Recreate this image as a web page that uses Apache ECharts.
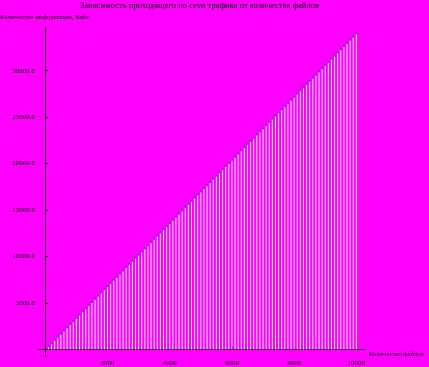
<!DOCTYPE html>
<html>
<head>
<meta charset="utf-8">
<script src="https://cdn.jsdelivr.net/npm/echarts@6/dist/echarts.min.js"></script>
<style>
html,body{margin:0;padding:0;background:#ff00ff;}
#c{width:429px;height:367px;}
</style>
</head>
<body>
<div id="c"></div>
<script>
const titleText = "Зависимость проходящего по сети трафика от количества файлов";
const yName = "Количество информации, Байт";
const xName = "Количество файлов";
const xTicks = [2000, 4000, 6000, 8000, 10000];
const yTicks = [5000, 10000, 15000, 20000, 25000, 30000];
const nodes = [100,200,300,400,500,600,700,800,900,1000,
1100,1200,1300,1400,1500,1600,1700,1800,1900,2000,
2100,2200,2300,2400,2500,2600,2700,2800,2900,3000,
3100,3200,3300,3400,3500,3600,3700,3800,3900,4000,
4100,4200,4300,4400,4500,4600,4700,4800,4900,5000,
5100,5200,5300,5400,5500,5600,5700,5800,5900,6000,
6100,6200,6300,6400,6500,6600,6700,6800,6900,7000,
7100,7200,7300,7400,7500,7600,7700,7800,7900,8000,
8100,8200,8300,8400,8500,8600,8700,8800,8900,9000,
9100,9200,9300,9400,9500,9600,9700,9800,9900,10000];
const traffic = [340,680,1020,1360,1700,2040,2380,2720,3060,3400,
3740,4080,4420,4760,5100,5440,5780,6120,6460,6800,
7140,7480,7820,8160,8500,8840,9180,9520,9860,10200,
10540,10880,11220,11560,11900,12240,12580,12920,13260,13600,
13940,14280,14620,14960,15300,15640,15980,16320,16660,17000,
17340,17680,18020,18360,18700,19040,19380,19720,20060,20400,
20740,21080,21420,21760,22100,22440,22780,23120,23460,23800,
24140,24480,24820,25160,25500,25840,26180,26520,26860,27200,
27540,27880,28220,28560,28900,29240,29580,29920,30260,30600,
30940,31280,31620,31960,32300,32640,32980,33320,33660,34000];

const pts = nodes.map((n, i) => [n, traffic[i]]);
const chart = echarts.init(document.getElementById('c'), null, {renderer: 'canvas'});
const font = '"Liberation Serif", "DejaVu Serif", serif';
chart.setOption({
  backgroundColor: '#ff00ff',
  animation: false,
  graphic: [
    {type: 'text', left: 80, top: 1, style: {text: titleText, font: '8.6px ' + font, fill: '#000'}},
    {type: 'text', left: 0, top: 14, style: {text: yName, font: '6.8px ' + font, fill: '#000'}},
    {type: 'text', left: 369, top: 351, style: {text: xName, font: '6.6px ' + font, fill: '#000'}}
  ],
  grid: {left: 38, top: 27, width: 327, height: 335},
  xAxis: {
    type: 'value', min: -235, max: 10278,
    splitLine: {show: false},
    axisLine: {onZero: true, lineStyle: {color: '#000', width: 1}},
    axisTick: {inside: true, length: 3, customValues: xTicks, lineStyle: {color: '#000'}},
    axisLabel: {customValues: xTicks, margin: 4, fontFamily: font, fontSize: 7, color: '#000',
      formatter: v => String(v)}
  },
  yAxis: {
    type: 'value', min: -708, max: 34700,
    splitLine: {show: false},
    axisLine: {onZero: true, lineStyle: {color: '#000', width: 1}},
    axisTick: {inside: true, length: 3, customValues: yTicks, lineStyle: {color: '#000'}},
    axisLabel: {customValues: yTicks, margin: 3, fontFamily: font, fontSize: 7, color: '#000',
      formatter: v => v.toFixed(1)}
  },
  series: [
    {type: 'bar', data: pts, barWidth: 1, itemStyle: {color: '#ece6f2'}, silent: true},
    {type: 'scatter', data: pts, symbol: 'rect', symbolSize: 2, itemStyle: {color: '#4545a0'}, silent: true}
  ]
});
</script>
</body>
</html>
